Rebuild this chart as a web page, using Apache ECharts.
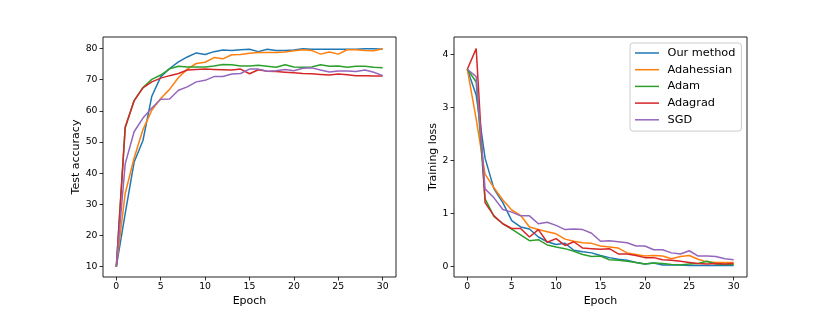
<!DOCTYPE html>
<html>
<head>
<meta charset="utf-8">
<script src="https://cdn.jsdelivr.net/npm/echarts@6/dist/echarts.min.js"></script>
<style>html,body{margin:0;padding:0;background:#fff}#c{width:830px;height:312px}</style>
</head>
<body>
<div id="c"></div>
<script>
const epochs = Array.from({length: 31}, (_, i) => i);
const seriesNames = ['Our method', 'Adahessian', 'Adam', 'Adagrad', 'SGD'];
const colors = ['#1f77b4', '#ff7f0e', '#2ca02c', '#d62728', '#9467bd'];
const accTicks = [10, 20, 30, 40, 50, 60, 70, 80];
const lossTicks = [0, 1, 2, 3, 4];
const epochTicks = [0, 5, 10, 15, 20, 25, 30];

const accOurs = [10, 27, 43.5, 50.5, 64.7, 70.9, 73.6, 75.7, 77.3, 78.6, 78.1, 79.0, 79.5, 79.4, 79.6, 79.8, 79.0, 79.8, 79.4, 79.4, 79.5, 79.9, 79.8, 79.8, 79.8, 79.8, 79.8, 79.8, 79.9, 79.9, 79.8];
const accAdahessian = [10, 33.5, 44.8, 54, 60.2, 64, 66.9, 70.7, 73.4, 75.2, 75.6, 77.1, 76.7, 78.0, 78.1, 78.5, 78.7, 78.7, 78.7, 78.9, 79.3, 79.6, 79.4, 78.2, 78.9, 78.2, 79.6, 79.6, 79.4, 79.3, 79.9];
const accAdam = [10, 54.5, 63.3, 67.5, 70.1, 71.5, 73.5, 74.3, 74.1, 74.1, 74.1, 74.4, 74.9, 74.8, 74.4, 74.4, 74.6, 74.3, 74.0, 74.8, 74.1, 74.0, 74.1, 74.8, 74.3, 74.4, 74.0, 74.3, 74.3, 74.0, 73.8];
const accAdagrad = [10, 54.8, 63.2, 67.4, 69.3, 70.5, 71.3, 72.0, 73.1, 73.3, 73.4, 73.3, 73.2, 73.1, 73.4, 71.9, 73.2, 72.7, 72.6, 72.4, 72.2, 72.0, 71.9, 71.7, 71.5, 71.8, 71.6, 71.3, 71.3, 71.2, 71.2];
const accSGD = [10, 43, 53.3, 57.7, 60.9, 63.7, 63.8, 66.6, 67.7, 69.3, 69.8, 71.0, 71.0, 71.8, 72.0, 73.4, 73.4, 72.7, 72.9, 73.3, 72.9, 73.7, 73.8, 73.1, 72.5, 72.8, 72.8, 72.6, 73.1, 72.4, 71.3];

const lossOurs = [3.72, 3.23, 2.04, 1.46, 1.20, 0.86, 0.74, 0.70, 0.55, 0.46, 0.41, 0.43, 0.30, 0.27, 0.25, 0.20, 0.16, 0.13, 0.11, 0.07, 0.04, 0.06, 0.02, 0.02, 0.02, 0.01, 0.01, 0.01, 0.01, 0.01, 0.01];
const lossAdahessian = [3.72, 2.78, 1.74, 1.48, 1.25, 1.06, 0.96, 0.74, 0.69, 0.65, 0.61, 0.51, 0.47, 0.44, 0.43, 0.38, 0.36, 0.34, 0.25, 0.22, 0.19, 0.20, 0.19, 0.14, 0.18, 0.20, 0.13, 0.08, 0.07, 0.07, 0.07];
const lossAdam = [3.72, 3.48, 1.27, 0.94, 0.80, 0.70, 0.59, 0.48, 0.50, 0.40, 0.36, 0.33, 0.28, 0.22, 0.18, 0.19, 0.12, 0.11, 0.09, 0.07, 0.04, 0.06, 0.05, 0.03, 0.02, 0.04, 0.05, 0.09, 0.04, 0.03, 0.03];
const lossAdagrad = [3.72, 4.11, 1.20, 0.95, 0.80, 0.71, 0.71, 0.55, 0.69, 0.45, 0.52, 0.39, 0.46, 0.34, 0.33, 0.32, 0.33, 0.23, 0.23, 0.20, 0.16, 0.16, 0.12, 0.11, 0.09, 0.07, 0.05, 0.04, 0.05, 0.04, 0.05];
const lossSGD = [3.72, 3.58, 1.46, 1.29, 1.07, 1.02, 0.95, 0.95, 0.80, 0.83, 0.77, 0.69, 0.70, 0.69, 0.62, 0.47, 0.48, 0.46, 0.44, 0.38, 0.38, 0.31, 0.31, 0.25, 0.23, 0.29, 0.19, 0.19, 0.18, 0.14, 0.12];

const accData = [accOurs, accAdahessian, accAdam, accAdagrad, accSGD];
const lossData = [lossOurs, lossAdahessian, lossAdam, lossAdagrad, lossSGD];

const FONT = 'DejaVu Sans';
function xAxis(gi) {
  return {
    type: 'value', gridIndex: gi, min: -1.5, max: 31.5,
    name: 'Epoch', nameLocation: 'middle', nameGap: 16,
    nameTextStyle: {fontFamily: FONT, fontSize: 11, color: '#000'},
    axisLine: {show: false, onZero: false},
    axisTick: {show: true, inside: false, length: 3.5, lineStyle: {color: '#000', width: 0.8}, customValues: epochTicks},
    axisLabel: {fontFamily: FONT, fontSize: 9.3, color: '#000', margin: 5, customValues: epochTicks},
    splitLine: {show: false}
  };
}
function yAxis(gi, min, max, ticks, name, gap) {
  return {
    type: 'value', gridIndex: gi, min: min, max: max,
    name: name, nameLocation: 'middle', nameGap: gap,
    nameTextStyle: {fontFamily: FONT, fontSize: 11, color: '#000'},
    axisLine: {show: false, onZero: false},
    axisTick: {show: true, inside: false, length: 3.5, lineStyle: {color: '#000', width: 0.8}, customValues: ticks},
    axisLabel: {fontFamily: FONT, fontSize: 9.3, color: '#000', margin: 5.5, customValues: ticks},
    splitLine: {show: false}
  };
}

const series = [];
accData.forEach((d, i) => series.push({
  type: 'line', name: seriesNames[i], xAxisIndex: 0, yAxisIndex: 0,
  data: epochs.map((e, k) => [e, d[k]]),
  symbol: 'none', lineStyle: {width: 1.5, color: colors[i]}, itemStyle: {color: colors[i]}
}));
lossData.forEach((d, i) => series.push({
  type: 'line', name: seriesNames[i], xAxisIndex: 1, yAxisIndex: 1,
  data: epochs.map((e, k) => [e, d[k]]),
  symbol: 'none', lineStyle: {width: 1.5, color: colors[i]}, itemStyle: {color: colors[i]}
}));

const chart = echarts.init(document.getElementById('c'), null, {renderer: 'canvas'});
chart.setOption({
  animation: false,
  backgroundColor: '#fff',
  grid: [
    {left: 103, top: 37, width: 293, height: 240, show: true, borderColor: '#222', borderWidth: 1, backgroundColor: 'transparent'},
    {left: 454, top: 37, width: 293, height: 240, show: true, borderColor: '#222', borderWidth: 1, backgroundColor: 'transparent'}
  ],
  xAxis: [xAxis(0), xAxis(1)],
  yAxis: [
    yAxis(0, 6.7, 83.7, accTicks, 'Test accuracy', 19),
    yAxis(1, -0.206, 4.33, lossTicks, 'Training loss', 14)
  ],
  legend: {
    data: seriesNames, orient: 'vertical', left: 630, top: 43,
    icon: 'rect', itemWidth: 24, itemHeight: 1.5, itemGap: 4.7,
    padding: [4, 6, 5.3, 5],
    borderColor: '#ccc', borderWidth: 1, borderRadius: 3, backgroundColor: 'rgba(255,255,255,0.8)',
    textStyle: {fontFamily: FONT, fontSize: 11.3, lineHeight: 12, color: '#000', padding: [0, 0, 0, 3.5]},
    selectedMode: false
  },
  series: series
});
</script>
</body>
</html>
